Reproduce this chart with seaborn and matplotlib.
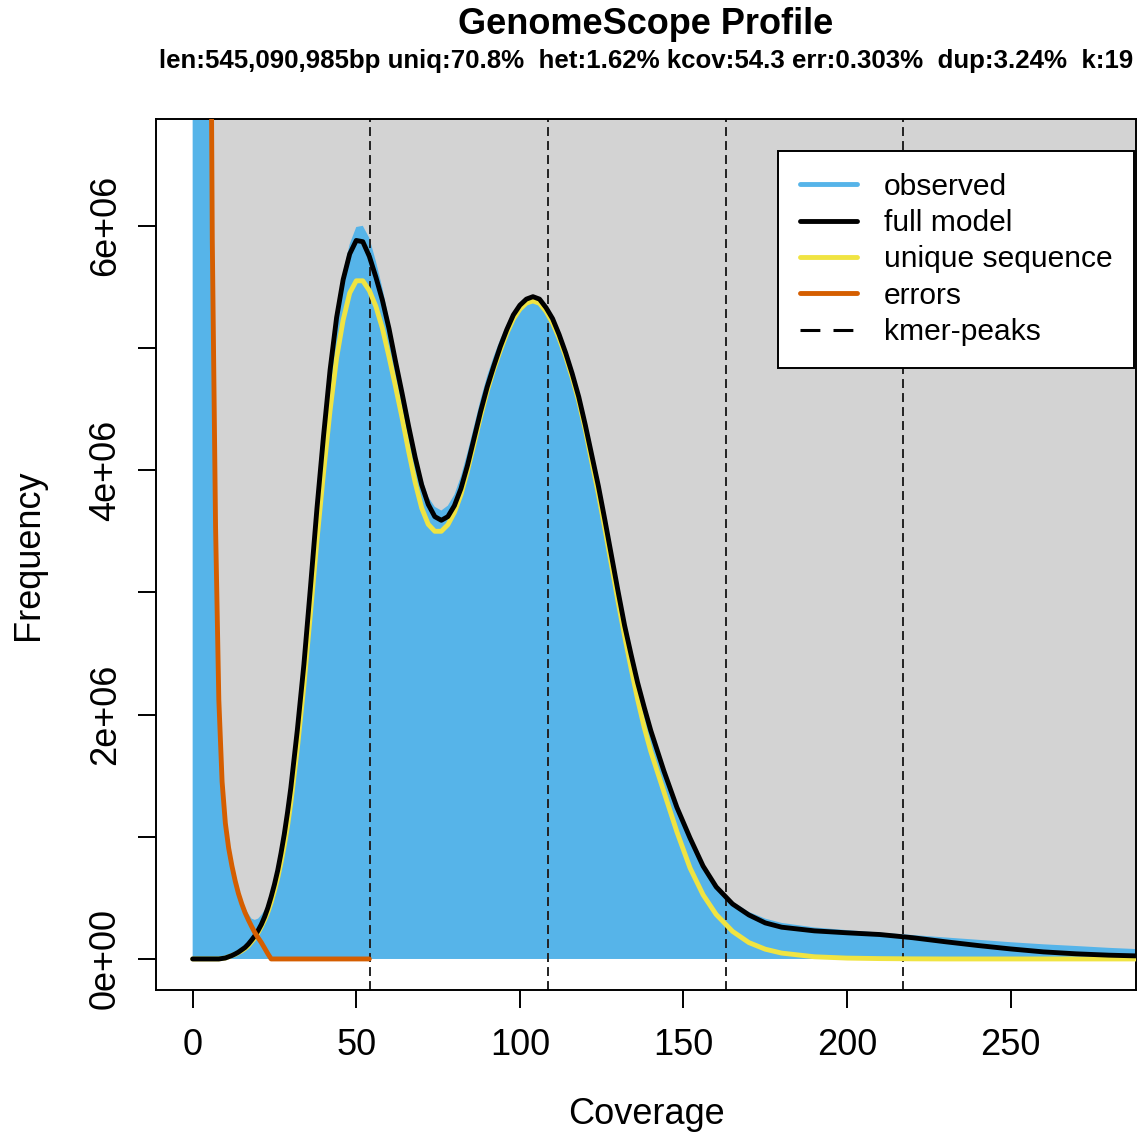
import numpy as np
import matplotlib
matplotlib.use("Agg")
import matplotlib.pyplot as plt
from matplotlib.lines import Line2D
from matplotlib.patches import Rectangle
import seaborn as sns

# ---- values (frequencies in millions) ----
coverage = [
    0, 1, 2, 3, 4, 5, 6, 7, 8, 9, 10, 11, 12, 13, 14, 15, 16, 17, 18, 19, 20,
    21, 22, 23, 24, 25, 26, 27, 28, 29, 30,
    32, 34, 36, 38, 40, 42, 44, 46, 48, 50, 52, 54, 56, 58, 60, 62, 64, 66, 68, 70,
    72, 74, 76, 78, 80, 82, 84, 86, 88, 90, 92, 94, 96, 98, 100, 102, 104, 106, 108, 110,
    112, 114, 116, 118, 120, 122, 124, 126, 128, 130, 132, 134, 136, 138, 140,
    144, 148, 152, 156, 160, 165, 170, 175, 180,
    190, 200, 210, 220, 230, 240, 250, 260, 270, 280, 290,
]

observed_m = [
    30, 30, 30, 30, 30, 12, 5.9, 3.54, 2.12, 1.45, 1.12, 0.93, 0.78, 0.67, 0.57, 0.49, 0.42, 0.37, 0.33, 0.32, 0.33,
    0.36, 0.40, 0.46, 0.53, 0.62, 0.73, 0.87, 1.02, 1.20, 1.40,
    1.875, 2.41, 3.04, 3.69, 4.29, 4.85, 5.29, 5.62, 5.85, 5.99, 6.00, 5.90, 5.71, 5.49, 5.23, 4.96, 4.68, 4.41, 4.155, 3.94,
    3.78, 3.70, 3.67, 3.71, 3.80, 3.95, 4.146, 4.36, 4.58, 4.77, 4.93, 5.07, 5.19, 5.29, 5.364, 5.405, 5.41, 5.386, 5.32, 5.22,
    5.09, 4.94, 4.77, 4.584, 4.354, 4.10, 3.848, 3.57, 3.285, 2.99, 2.715, 2.47, 2.244, 2.036, 1.85,
    1.53, 1.246, 1.004, 0.78, 0.61, 0.47, 0.385, 0.33, 0.295,
    0.258, 0.236, 0.216, 0.196, 0.176, 0.157, 0.137, 0.12, 0.106, 0.091, 0.079,
]

full_model_m = [
    0, 0, 0, 0, 0, 0, 0, 0, 0, 0.004, 0.008, 0.018, 0.028, 0.041, 0.056, 0.075, 0.094, 0.121, 0.154, 0.189, 0.233,
    0.283, 0.345, 0.42, 0.51, 0.61, 0.725, 0.865, 1.02, 1.20, 1.40,
    1.875, 2.41, 3.04, 3.69, 4.28, 4.82, 5.25, 5.56, 5.77, 5.88, 5.87, 5.75, 5.58, 5.39, 5.16, 4.89, 4.63, 4.36, 4.105, 3.88,
    3.72, 3.62, 3.59, 3.62, 3.71, 3.85, 4.04, 4.26, 4.48, 4.68, 4.85, 5.01, 5.15, 5.27, 5.35, 5.40, 5.42, 5.40, 5.33, 5.24,
    5.11, 4.96, 4.79, 4.60, 4.37, 4.12, 3.87, 3.59, 3.30, 3.01, 2.73, 2.49, 2.26, 2.06, 1.87,
    1.54, 1.24, 0.99, 0.76, 0.59, 0.45, 0.36, 0.295, 0.26,
    0.23, 0.214, 0.20, 0.174, 0.141, 0.11, 0.082, 0.058, 0.042, 0.031, 0.024,
]

unique_seq_m = [
    0, 0, 0, 0, 0, 0, 0, 0, 0, 0.004, 0.008, 0.018, 0.028, 0.038, 0.052, 0.066, 0.085, 0.107, 0.14, 0.171, 0.215,
    0.265, 0.32, 0.385, 0.465, 0.56, 0.665, 0.79, 0.93, 1.09, 1.28,
    1.725, 2.24, 2.83, 3.43, 3.98, 4.49, 4.92, 5.23, 5.45, 5.55, 5.55, 5.47, 5.34, 5.16, 4.93, 4.685, 4.43, 4.156, 3.90, 3.69,
    3.557, 3.50, 3.50, 3.554, 3.655, 3.80, 3.996, 4.216, 4.44, 4.646, 4.824, 4.978, 5.12, 5.237, 5.317, 5.368, 5.385, 5.366, 5.30, 5.205,
    5.08, 4.93, 4.758, 4.564, 4.332, 4.066, 3.807, 3.52, 3.225, 2.928, 2.644, 2.378, 2.123, 1.896, 1.70,
    1.37, 1.04, 0.745, 0.525, 0.364, 0.226, 0.134, 0.08, 0.048,
    0.018, 0.007, 0.003, 0.001, 0, 0, 0, 0, 0, 0, 0,
]

error_cov = list(range(5, 55))
errors_m = [
    10.5, 5.89, 3.54, 2.12, 1.45, 1.11, 0.908, 0.762, 0.639, 0.535, 0.452, 0.38, 0.321, 0.267, 0.216, 0.174,
    0.134, 0.088, 0.042,
] + [0] * 31

kcov = 54.3
kmer_peaks = [kcov * i for i in (1, 2, 3, 4)]

title = "GenomeScope Profile"
subtitle = ("len:545,090,985bp uniq:70.8%  het:1.62% kcov:54.3 err:0.303%  "
            "dup:3.24%  k:19")
x_ticks = [0, 50, 100, 150, 200, 250]
y_ticks_m = [0, 1, 2, 3, 4, 5, 6]
y_tick_labels = ["0e+00", "", "2e+06", "", "4e+06", "", "6e+06"]
legend_labels = ["observed", "full model", "unique sequence", "errors", "kmer-peaks"]

COL_OBS = "#56B4E9"
COL_MODEL = "black"
COL_UNIQUE = "#F0E442"
COL_ERR = "#D55E00"
COL_BG = "#D3D3D3"

sns.set_theme(style="ticks", rc={
    "axes.edgecolor": "black",
    "axes.linewidth": 1.4,
    "xtick.color": "black",
    "ytick.color": "black",
    "xtick.major.size": 12.7,
    "ytick.major.size": 12.7,
    "xtick.major.width": 1.4,
    "ytick.major.width": 1.4,
    "text.color": "black",
    "axes.labelcolor": "black",
})
plt.rcParams["font.family"] = ["Liberation Sans", "DejaVu Sans"]

M = 1e6
cov = np.array(coverage, dtype=float)
observed = np.array(observed_m) * M
full_model = np.array(full_model_m) * M
unique_seq = np.array(unique_seq_m) * M
errors = np.array(errors_m) * M

W, H = 1138, 1139
fig = plt.figure(figsize=(W / 100, H / 100), dpi=100)
ax = fig.add_axes([156 / W, 1 - 990 / H, 980 / W, 871 / H])
ax.set_xlim(-11.2, 288.3)
ax.set_ylim(-0.254 * M, 6.874 * M)

# grey plotting panel starting at the origin
ax.add_patch(Rectangle((0, 0), 1000, 100 * M, facecolor=COL_BG, edgecolor="none", zorder=0))

ax.fill_between(cov, 0, observed, color=COL_OBS, linewidth=0, zorder=1)

dash_style = (0, (4.6, 2.6))
for p in kmer_peaks:
    ax.axvline(p, color="#222222", linewidth=1.4, linestyle=dash_style, zorder=2)

line_kw = dict(linewidth=3.5, solid_joinstyle="round", solid_capstyle="round")
sns.lineplot(x=cov, y=unique_seq, color=COL_UNIQUE, ax=ax, zorder=3, **line_kw)
sns.lineplot(x=cov, y=full_model, color=COL_MODEL, ax=ax, zorder=4, **line_kw)
sns.lineplot(x=error_cov, y=errors, color=COL_ERR, ax=ax, zorder=5, **line_kw)

ax.set_xticks(x_ticks)
ax.set_xticklabels([str(t) for t in x_ticks])
ax.set_yticks([v * M for v in y_ticks_m])
ax.set_yticklabels(y_tick_labels)
ax.tick_params(axis="x", labelsize=26, pad=15)
ax.tick_params(axis="y", labelsize=26, pad=11)
for lbl in ax.get_yticklabels():
    lbl.set_rotation(90)
    lbl.set_verticalalignment("center")

for s in ax.spines.values():
    s.set_visible(True)

ax.set_xlabel("Coverage", fontsize=26)
ax.set_ylabel("Frequency", fontsize=26)
ax.xaxis.set_label_coords(0.5, -0.1435)
ax.xaxis.label.set_verticalalignment("center")
ax.yaxis.set_label_coords(-0.1306, 0.5)
ax.yaxis.label.set_verticalalignment("center")

fig.text(646 / W, 1 - 24 / H, title, ha="center", va="center",
         fontsize=26, fontweight="bold")
fig.text(646 / W, 1 - 61 / H, subtitle, ha="center", va="center",
         fontsize=18.6, fontweight="bold")

handles = [
    Line2D([], [], color=COL_OBS, linewidth=3.5),
    Line2D([], [], color=COL_MODEL, linewidth=3.5),
    Line2D([], [], color=COL_UNIQUE, linewidth=3.5),
    Line2D([], [], color=COL_ERR, linewidth=3.5),
    Line2D([], [], color="black", linewidth=2.2, linestyle=(0, (6.5, 4.3))),
]
leg = ax.legend(handles, legend_labels, loc="upper right",
                bbox_to_anchor=(1134 / W, 1 - 151 / H), bbox_transform=fig.transFigure,
                borderaxespad=0, fontsize=21.6, frameon=True, fancybox=False,
                framealpha=1, edgecolor="black", facecolor="white",
                handlelength=1.9, handletextpad=0.9, labelspacing=0.28,
                borderpad=0.72)
leg.get_frame().set_linewidth(1.4)
leg.set_zorder(10)

fig.savefig("out.png", dpi=100, facecolor="white")
plt.close(fig)
